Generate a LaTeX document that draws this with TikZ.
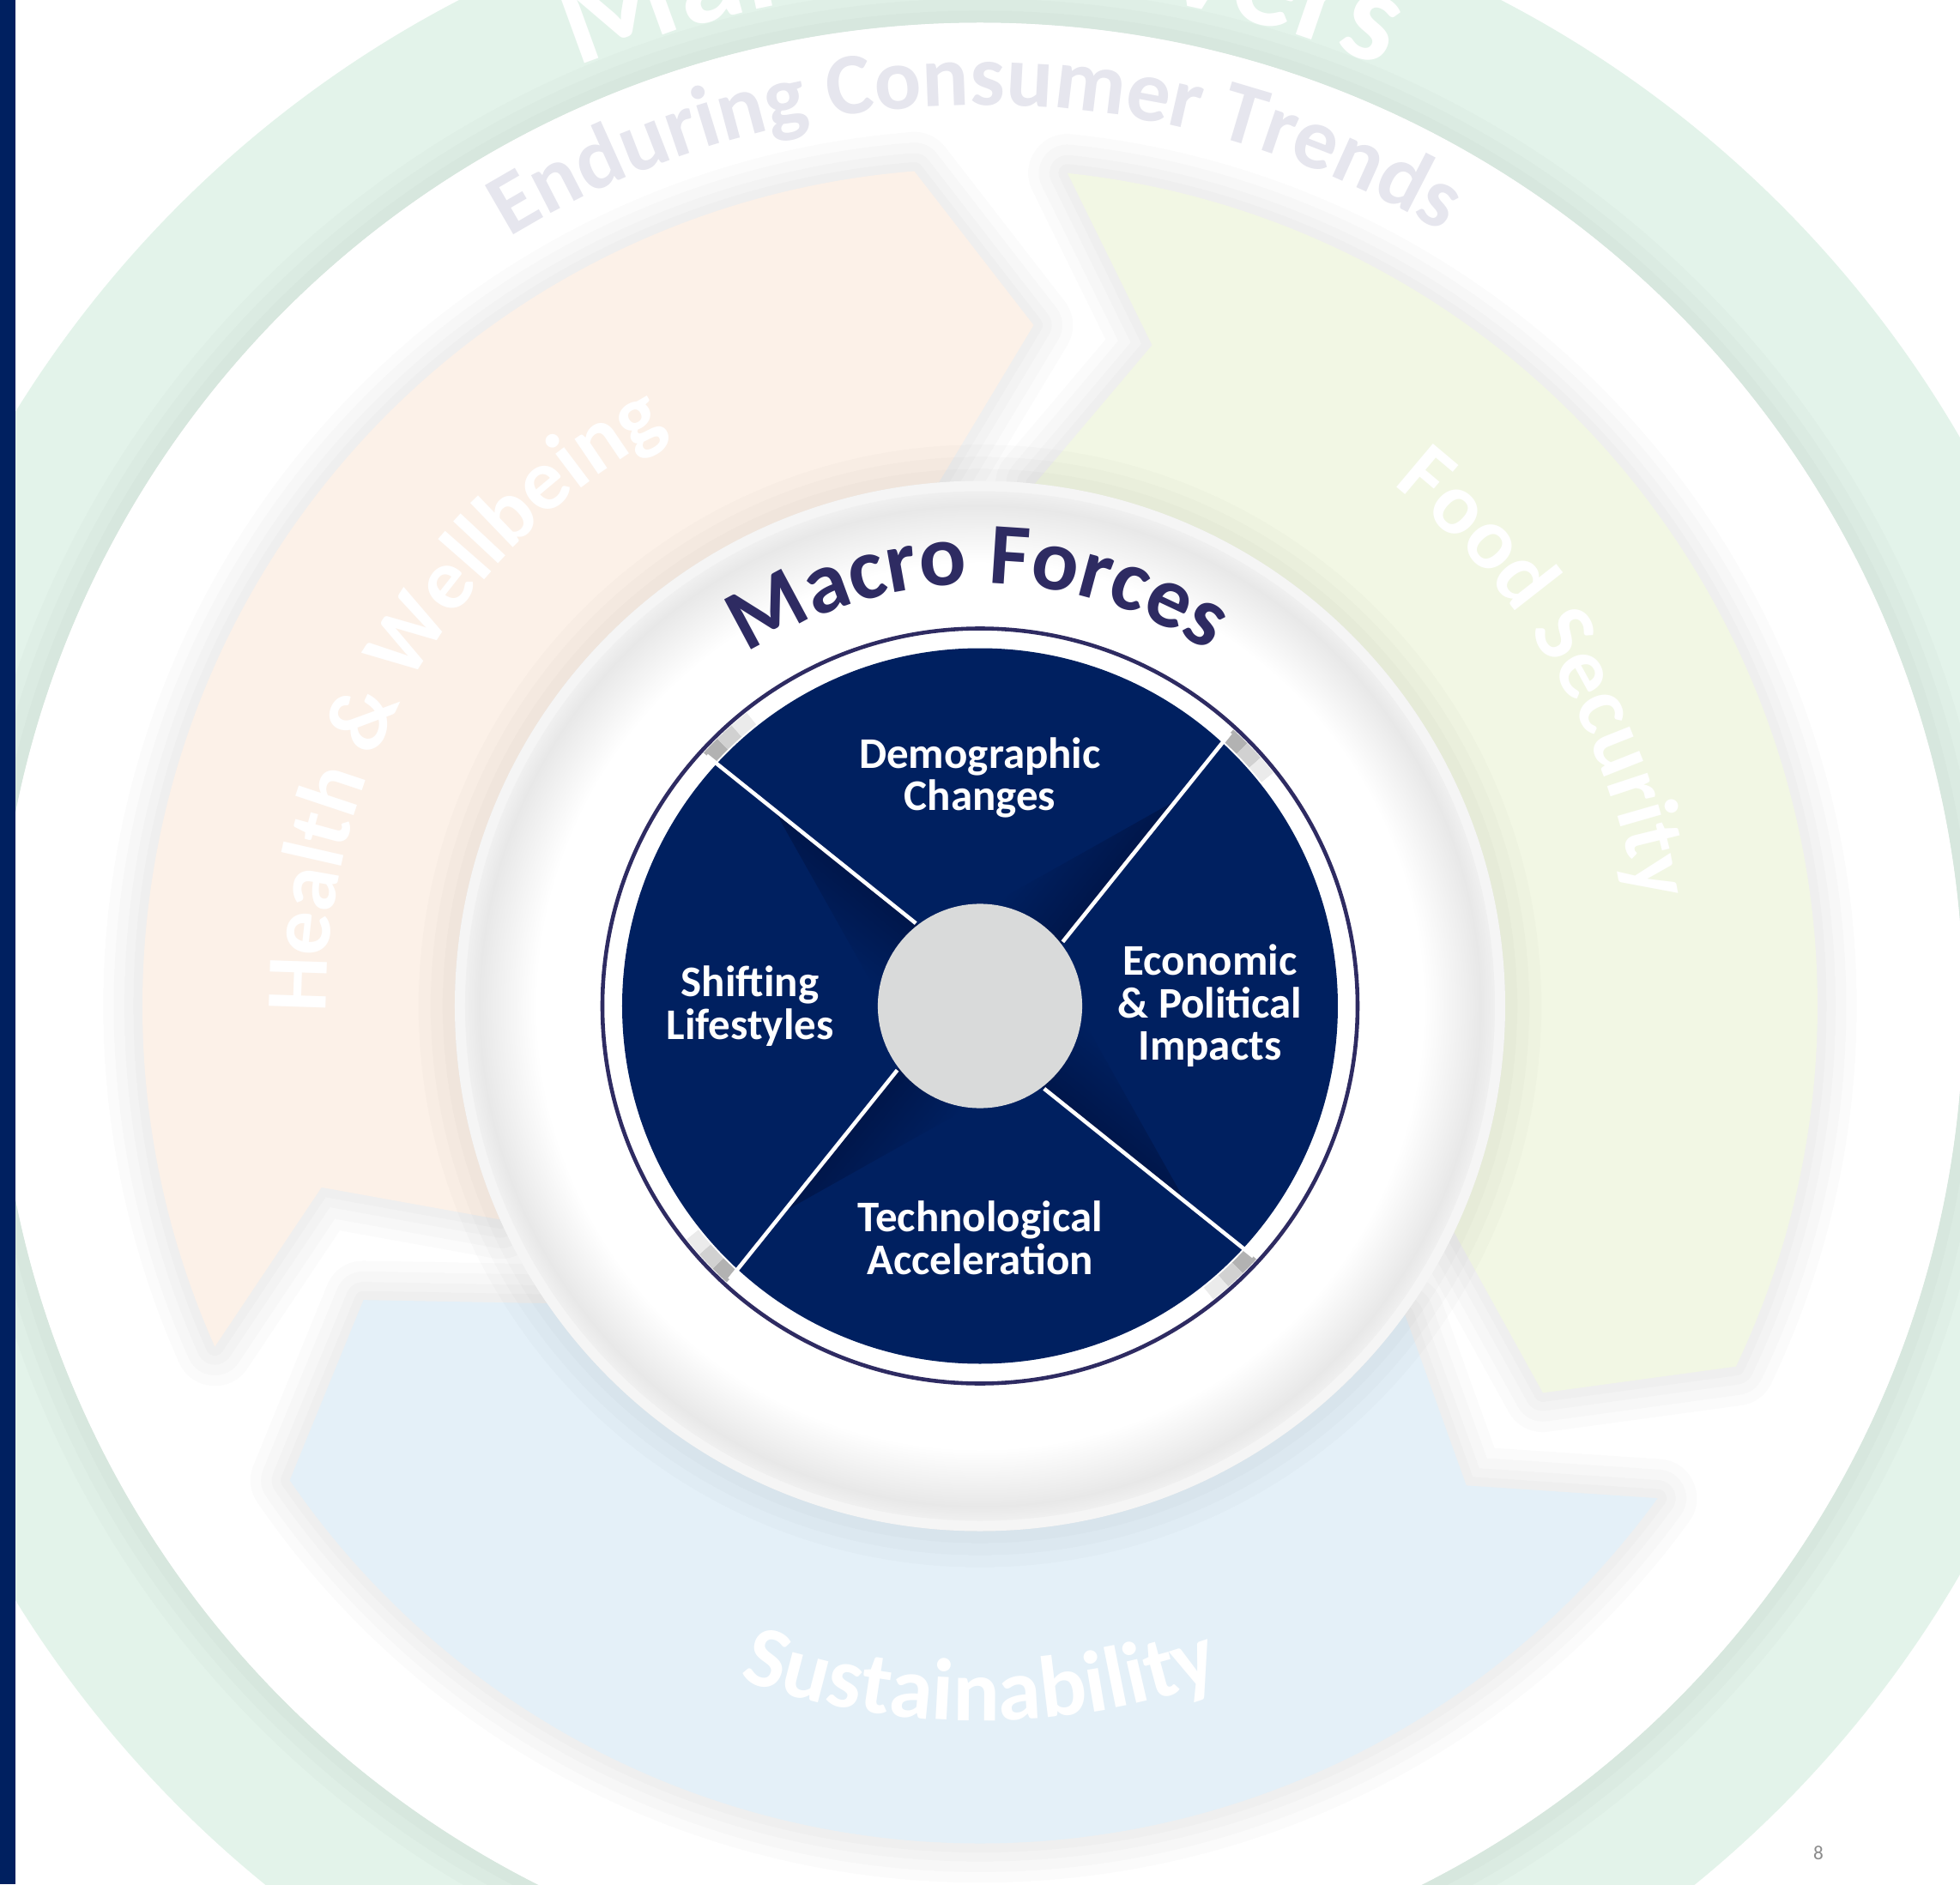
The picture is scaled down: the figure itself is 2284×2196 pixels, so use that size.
\documentclass[tikz,border=0pt]{standalone}
\usepackage{fontspec}
\setmainfont{Carlito}
\usetikzlibrary{decorations.text}

\definecolor{navy}{HTML}{002060}
\definecolor{navydeep}{HTML}{00164A}
\definecolor{indigo}{HTML}{2E2B62}
\definecolor{mint}{HTML}{E3F3EA}
\definecolor{peach}{HTML}{FCF1E8}
\definecolor{leaf}{HTML}{F2F7E4}
\definecolor{sky}{HTML}{E4F0F8}
\definecolor{hubgray}{HTML}{D9DADA}
\definecolor{trendgray}{HTML}{E6E6EE}
\definecolor{pagegray}{HTML}{8C8C8C}

% soft inner shadow along the rim of the Macro Forces disc
\pgfdeclareradialshading{rimshade}{\pgfpoint{0bp}{0bp}}{%
  color(0bp)=(white); color(21.5bp)=(white); color(24.3bp)=(black!9);
  color(25bp)=(black!6); color(50bp)=(black!6)}

% one chevron of the trend band, #1 = angle of its tail
\newcommand{\chevron}[1]{%
  (#1:976) arc[start angle=#1, delta angle=-109.5, radius=976]
  -- ({#1-118.5}:796) -- ({#1-109.5}:612)
  arc[start angle={#1-109.5}, delta angle=109.5, radius=612]
  -- ({#1-8.6}:796) -- cycle}

\newcommand{\bandfont}{\fontsize{29}{30}\selectfont\bfseries\color{white}}

\tikzset{
  arclabel/.style={decorate, decoration={text along path, text align=center, text={#1}}},
  softedge/.style={black, opacity=0.014, line join=round},
  sectorlabel/.style={text=white, font=\bfseries\fontsize{14.5}{14.1}\selectfont, align=center},
}

\begin{document}
\begin{tikzpicture}[x=0.01cm, y=0.01cm]
    % page frame, centred on the wheel
    \clip (-1142,-1023.5) rectangle (1142,1172.5);
    \fill[white] (-1142,-1023.5) rectangle (1142,1172.5);

    % Draw the outer ring of market drivers
    \fill[mint, even odd rule] (0,0) circle[radius=1320] (0,0) circle[radius=1146];
    \path[arclabel={|\fontsize{44}{48}\selectfont\bfseries\color{white}|Market Drivers}]
        (150:1190) arc[start angle=150, end angle=30, radius=1190];
    \foreach \w in {24,16,8}
        \draw[softedge, line width=\w pt] (0,0) circle[radius=1146];
    \fill[white] (0,0) circle[radius=1146];

    % Enduring consumer trends
    \path[arclabel={|\fontsize{29}{30}\selectfont\bfseries\color{trendgray}|Enduring Consumer Trends}]
        (150.3:1050) arc[start angle=150.3, end angle=30.3, radius=1050];

    % Draw the three chevrons of the trend band
    \foreach \a in {204,84,-36}
        \foreach \w in {26,19,12,6}
            \draw[softedge, line width=\w pt] \chevron{\a};
    \fill[peach] \chevron{204};
    \fill[leaf] \chevron{84};
    \fill[sky] \chevron{-36};

    % Label the chevrons
    \path[arclabel={|\bandfont|Health {\&} Wellbeing}]
        (214.5:762) arc[start angle=214.5, end angle=84.5, radius=762];
    \path[arclabel={|\bandfont|Food Security}]
        (95.3:775) arc[start angle=95.3, end angle=-34.7, radius=775];
    \path[arclabel={|\bandfont|Sustainability}]
        (210:833) arc[start angle=210, end angle=330, radius=833];

    % Draw the Macro Forces disc with its soft rim
    \foreach \w in {24,16,8}
        \draw[softedge, line width=\w pt] (0,0) circle[radius=612];
    \fill[black!4] (0,0) circle[radius=612];
    \shade[shading=rimshade] (0,0) circle[radius=600];
    \path[arclabel={|\fontsize{29}{30}\selectfont\bfseries\color{indigo}|Macro Forces}]
        (150.3:492) arc[start angle=150.3, end angle=30.3, radius=492];

    % Draw the navy wheel, its spokes and their shadows
    \draw[indigo, line width=1.3pt] (0,0) circle[radius=440];
    \fill[navy] (0,0) circle[radius=417];
    \foreach \k in {0,...,3} {
        \begin{scope}[transform canvas={rotate={51.3+90*\k}}]
            \shade[bottom color=navydeep, top color=navy]
                (110,-28.5) -- (330,-28.5) -- (110,60) -- cycle;
        \end{scope}
        \foreach \s/\g in {0/30,3/18,6/8}
            \draw[black!\g, line width=5pt]
                ({47.5+90*\k-\s}:428) arc[start angle={47.5+90*\k-\s}, delta angle=-3, radius=428];
        \draw[white, line width=1.3pt] ({37.8+90*\k}:122) -- ({47.5+90*\k}:432);
    }
    \node[circle, fill=hubgray, minimum size=2.38cm, inner sep=0pt] (hub) at (0,0) {};

    % Label the four forces
    \node[sectorlabel] (demog) at (0,266) {Demographic\\Changes};
    \node[sectorlabel] (econ) at (268,0) {Economic\\\& Political\\Impacts};
    \node[sectorlabel] (tech) at (0,-270) {Technological\\Acceleration};
    \node[sectorlabel] (shift) at (-268,0) {Shifting\\Lifestyles};

    % slide stripe and page number
    \fill[navy] (-1142,-1023.5) rectangle (-1124,1172.5);
    \node[text=pagegray, font=\fontsize{6.6}{8}\selectfont] (pagenum) at (977,-987) {8};
\end{tikzpicture}
\end{document}
